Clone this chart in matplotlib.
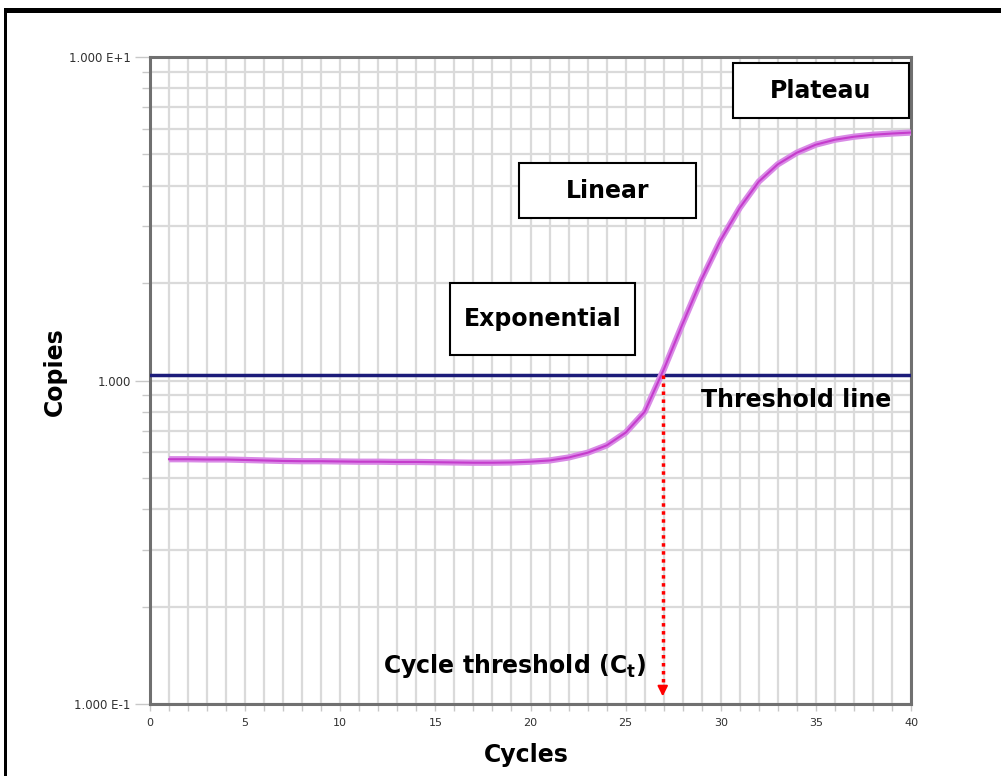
import matplotlib
matplotlib.use("Agg")
import matplotlib.pyplot as plt
from matplotlib.patches import Rectangle
from matplotlib.ticker import NullFormatter, LogLocator

# ---- data ----
cycles = list(range(1, 41))
copies = [0.571, 0.571, 0.570, 0.570, 0.568, 0.566, 0.564, 0.563, 0.563, 0.562,
          0.561, 0.561, 0.560, 0.560, 0.559, 0.558, 0.557, 0.557, 0.558, 0.561,
          0.566, 0.578, 0.598, 0.630, 0.690, 0.800, 1.080, 1.500, 2.060, 2.720,
          3.420, 4.120, 4.660, 5.060, 5.360, 5.550, 5.670, 5.750, 5.800, 5.840]
threshold = 1.04
ct_cycle = 26.95
x_ticks = [0, 5, 10, 15, 20, 25, 30, 35, 40]
y_ticks = [0.1, 1.0, 10.0]
y_tick_labels = ["1.000 E-1", "1.000", "1.000 E+1"]

W, H = 1001, 776
fig = plt.figure(figsize=(W / 100, H / 100), dpi=100)
fig.patch.set_facecolor("white")
ax = fig.add_axes([150 / W, 1 - 704 / H, (911 - 150) / W, (704 - 57) / H])

ax.set_yscale("log")
ax.set_xlim(0, 40)
ax.set_ylim(0.1, 10)

# grid
ax.set_xticks(x_ticks)
ax.set_xticks(range(0, 41), minor=True)
ax.set_yticks(y_ticks)
ax.set_yticklabels(y_tick_labels)
ax.yaxis.set_minor_locator(LogLocator(base=10, subs=range(2, 10)))
ax.yaxis.set_minor_formatter(NullFormatter())
ax.grid(True, which="both", color="#dadada", linewidth=1.6, zorder=0)
ax.set_axisbelow(True)

ax.tick_params(axis="y", which="major", length=11, width=1.0, color="#c8c8c8",
               labelsize=8.5, labelcolor="#303030", pad=3)
ax.tick_params(axis="y", which="minor", length=6, width=1.0, color="#c8c8c8")
ax.tick_params(axis="x", which="both", length=5, width=1.0, color="#c8c8c8",
               labelsize=8, labelcolor="#303030", pad=5)

for s in ax.spines.values():
    s.set_color("#707070")
    s.set_linewidth(2.2)

# threshold line
ax.axhline(threshold, color="#1c1c7a", linewidth=2.5, zorder=3)

# amplification curve
ax.plot(cycles, copies, color="#d98ae6", linewidth=4.5, solid_capstyle="butt",
        solid_joinstyle="round", zorder=4)
ax.plot(cycles, copies, color="#c53ccc", linewidth=1.5, solid_joinstyle="round", zorder=5)

# Ct arrow
ax.plot([ct_cycle, ct_cycle], [threshold, 0.112], color="red", linestyle=(0, (1, 1.3)),
        linewidth=2.5, zorder=6)
ax.annotate("", xy=(ct_cycle, 0.1035), xytext=(ct_cycle, 0.113),
            arrowprops=dict(arrowstyle="-|>,head_width=0.3,head_length=0.6",
                            color="red", lw=1.5), zorder=6)

# axis labels
fs = 17
fig.text(55 / W, 1 - 372 / H, "Copies", rotation=90, ha="center", va="center",
         fontsize=fs, fontweight="bold")
fig.text(526 / W, 1 - 755 / H, "Cycles", ha="center", va="center",
         fontsize=fs, fontweight="bold")

# phase boxes
boxes = [
    ("Plateau", 733, 909, 63, 118),
    ("Linear", 519, 696, 163, 218),
    ("Exponential", 450, 635, 283, 355),
]
for label, x0, x1, y0, y1 in boxes:
    fig.patches.append(Rectangle((x0 / W, 1 - y1 / H), (x1 - x0) / W, (y1 - y0) / H,
                                 transform=fig.transFigure, facecolor="white",
                                 edgecolor="black", linewidth=1.5, zorder=10))
    fig.text((x0 + x1) / 2 / W, 1 - ((y0 + y1) / 2) / H, label, ha="center",
             va="center", fontsize=fs, fontweight="bold", zorder=11)

fig.text(796 / W, 1 - 400 / H, "Threshold line", ha="center", va="center",
         fontsize=fs, fontweight="bold")
fig.text(383 / W, 1 - 666 / H, r"Cycle threshold (C$_\mathregular{t}$)", ha="left",
         va="center", fontsize=fs, fontweight="bold")

# outer frame (top and left)
fig.patches.append(Rectangle((4 / W, 1 - 13 / H), (W - 4) / W, 5.5 / H,
                             transform=fig.transFigure, facecolor="black",
                             edgecolor="none", zorder=20))
fig.patches.append(Rectangle((3.5 / W, 0), 3.5 / W, 1 - 8 / H,
                             transform=fig.transFigure, facecolor="black",
                             edgecolor="none", zorder=20))

fig.savefig("out.png", dpi=100)
